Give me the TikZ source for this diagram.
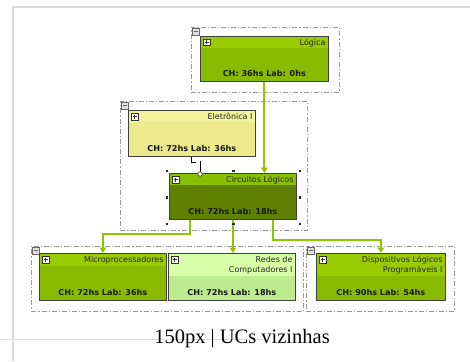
\documentclass[tikz,border=0pt]{standalone}
\usepackage{fontspec}
\setmainfont{DejaVu Sans}
\newfontfamily\capfont{Liberation Serif}
\usetikzlibrary{backgrounds,arrows.meta}
\definecolor{limeH}{HTML}{99CC00}
\definecolor{limeB}{HTML}{88BB00}
\definecolor{yelH}{HTML}{F4F29C}
\definecolor{yelB}{HTML}{ECEA8A}
\definecolor{darkH}{HTML}{88C000}
\definecolor{darkB}{HTML}{5E8200}
\definecolor{paleH}{HTML}{D8FFA8}
\definecolor{paleB}{HTML}{BDEB8E}
\definecolor{connc}{HTML}{8EC600}
\definecolor{framegray}{HTML}{DADADA}
\definecolor{guidegreen}{HTML}{CFE8D6}
\tikzset{
  ucbox/.style={draw=black!75, line width=0.7pt, minimum width=127pt, minimum height=46pt,
    anchor=north west, inner sep=0pt, fill=#1},
  hdr/.style 2 args={path picture={\fill[#1] (path picture bounding box.north west)
    rectangle ([yshift=-#2]path picture bounding box.north east);}},
  grp/.style={draw=black!40, line width=0.7pt, dash pattern=on 5pt off 2pt on 1.2pt off 2pt,
    anchor=north west, inner sep=0pt},
  ttl/.style={font=\fontsize{8}{10}\selectfont, anchor=north east, align=right, inner sep=0pt, text=black!85},
  chtx/.style={font=\bfseries\fontsize{8.1}{10}\selectfont, anchor=base, inner sep=0pt, text=black!90},
  plusbox/.style={draw=black!80, fill=white, line width=0.5pt, minimum size=6.5pt, inner sep=0pt,
    path picture={\draw[line width=0.9pt] ([xshift=-2pt]path picture bounding box.center) -- ([xshift=2pt]path picture bounding box.center)
      ([yshift=-2pt]path picture bounding box.center) -- ([yshift=2pt]path picture bounding box.center);}},
  minusbox/.style={draw=black!60, fill=black!12, line width=0.5pt, minimum size=7pt, inner sep=0pt,
    path picture={\draw[line width=0.9pt] ([xshift=-2pt]path picture bounding box.center) -- ([xshift=2pt]path picture bounding box.center);}},
  conn/.style={draw=connc, line width=1.8pt, -{Triangle[width=6.5pt,length=5.5pt]}},
  handle/.style={fill=black!85, minimum size=2.6pt, inner sep=0pt},
  shadowfill/.style={fill=black!35},
}
\begin{document}
\begin{tikzpicture}[x=1pt,y=-1pt]
\useasboundingbox[fill=white] (0,0) rectangle (470,361);
% frame lines
\draw[framegray, line width=2pt] (12,7.5) -- (470,7.5);
\draw[framegray, line width=2pt] (13,6.5) -- (13,361);
\draw[guidegreen, line width=0.8pt] (0,339) -- (265,339);

% groups
\node[grp, minimum width=148pt, minimum height=65pt] (g1) at (191,27) {};
\node[grp, minimum width=187pt, minimum height=129pt] (g2) at (120,101) {};
\node[grp, minimum width=272pt, minimum height=65pt] (g3) at (31,246) {};
\node[grp, minimum width=148pt, minimum height=65pt] (g4) at (306,246) {};
\foreach \g in {g1,g2,g3,g4}
  \node[minusbox] (\g-m) at ([xshift=4.5pt,yshift=-4.5pt]\g.north west) {};

% UC nodes
\node[ucbox=limeB, hdr={limeH}{12pt}, minimum width=128pt, minimum height=45pt] (logica) at (200,36) {};
\node[ucbox=yelB, hdr={yelH}{12pt}] (eletronica) at (128,110) {};
\node[ucbox=darkB, hdr={darkH}{12pt}] (circuitos) at (169,173) {};
\node[ucbox=limeB, hdr={limeH}{13pt}, minimum height=47pt] (micro) at (39,253) {};
\node[ucbox=paleB, hdr={paleH}{23pt}, minimum height=47pt] (redes) at (168,253) {};
\node[ucbox=limeB, hdr={limeH}{23pt}, minimum width=129pt, minimum height=47pt] (disp) at (316,253) {};

\begin{scope}[on background layer]
\foreach \n in {logica,eletronica,circuitos,micro,redes,disp}
  \fill[shadowfill] ([xshift=2pt,yshift=-2pt]\n.north west) rectangle ([xshift=2pt,yshift=-2pt]\n.south east);
\end{scope}

\foreach \n in {logica,eletronica,circuitos,micro,redes,disp}
  \node[plusbox] (\n-p) at ([xshift=6.5pt,yshift=-6.5pt]\n.north west) {};

% titles
\node[ttl] (logica-t) at ([xshift=-3pt,yshift=-3pt]logica.north east) {Lógica};
\node[ttl] (eletronica-t) at ([xshift=-3pt,yshift=-3pt]eletronica.north east) {Eletrônica I};
\node[ttl] (circuitos-t) at ([xshift=-3pt,yshift=-3pt]circuitos.north east) {Circuitos Lógicos};
\node[ttl] (micro-t) at ([xshift=-3pt,yshift=-3pt]micro.north east) {Microprocessadores};
\node[ttl] (redes-t) at ([xshift=-3pt,yshift=-3pt]redes.north east) {Redes de\\Computadores I};
\node[ttl] (disp-t) at ([xshift=-3pt,yshift=-3pt]disp.north east) {Dispositivos Lógicos\\Programáveis I};

% CH texts
\node[chtx] (logica-c) at ([yshift=5.5pt]logica.south) {CH: 36hs Lab: 0hs};
\node[chtx] (eletronica-c) at ([yshift=5.5pt]eletronica.south) {CH: 72hs Lab: 36hs};
\node[chtx] (circuitos-c) at ([yshift=5.5pt]circuitos.south) {CH: 72hs Lab: 18hs};
\node[chtx] (micro-c) at ([yshift=5.5pt]micro.south) {CH: 72hs Lab: 36hs};
\node[chtx] (redes-c) at ([yshift=5.5pt]redes.south) {CH: 72hs Lab: 18hs};
\node[chtx] (disp-c) at ([yshift=5.5pt]disp.south) {CH: 90hs Lab: 54hs};

% connectors
\draw[conn] (logica.south) -- (logica.south |- circuitos.north);
\draw[conn] ([xshift=-43pt]circuitos.south) -- ++(0,14) -| (micro.north);
\draw[conn] (circuitos.south) -- (circuitos.south |- redes.north);
\draw[conn] ([xshift=40pt]circuitos.south) -- ++(0,20) -| (disp.north);

% dependency marker
\draw[black, line width=1pt] (eletronica.south) -- ++(0,5.5) -- ++(4.5,0);
\coordinate (depc) at (200,174);
\draw[black, line width=0.9pt] (200,161) -- (depc);
\node[circle, draw=black!80, fill=white, line width=0.6pt, minimum size=4.5pt, inner sep=0pt] (depo) at (depc) {};

% selection handles
\foreach \i/\p in {1/{(167,171)},2/{(233.5,171)},3/{(300,171)},4/{(167,197.5)},5/{(300,197.5)},6/{(167,224)},7/{(233.5,224)},8/{(300,224)}}
  \node[handle] (h\i) at \p {};

% caption
\node[font=\capfont\fontsize{20.5}{24}\selectfont, anchor=base, inner sep=0pt] (cap) at (242,343) {150px | UCs vizinhas};
\end{tikzpicture}
\end{document}
